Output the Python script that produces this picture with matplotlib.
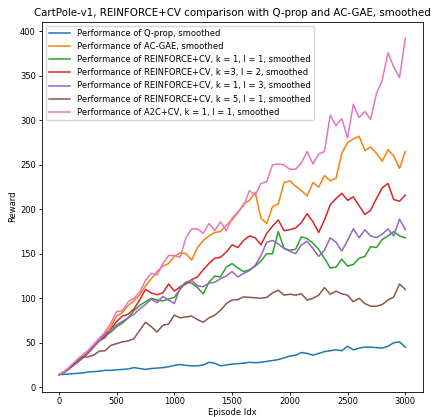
import numpy as np
import matplotlib
matplotlib.use("Agg")
import matplotlib.pyplot as plt

# episode index (sampled every 50 episodes)
episodes = np.arange(0, 3001, 50)

qprop = [14, 14.5, 15, 15.5, 16, 17, 17.5, 18, 19, 19, 19.5, 20, 20.5, 22, 21, 20,
         21, 21.5, 22, 23, 24.5, 25.5, 24.5, 24, 24, 25, 28, 27, 24, 25, 26, 26.5,
         27, 28, 27.5, 28, 29, 30, 31, 33, 35, 36, 39, 38, 36, 38, 40, 41, 42, 41,
         46, 42, 44, 45, 45, 44.5, 44, 46, 50, 51, 45]

acgae = [14, 17, 22, 28, 33, 40, 47, 55, 60, 68, 80, 84, 92, 97, 104, 114, 122,
         130, 136, 139, 147, 151, 150, 143, 157, 165, 170, 174, 175, 182, 188, 196,
         206, 210, 219, 190, 184, 203, 206, 230, 232, 226, 221, 215, 230, 225, 238,
         232, 235, 263, 275, 279, 282, 266, 270, 263, 254, 267, 260, 246, 265]

rcv_k1_l1 = [14, 17, 22, 27, 32, 38, 45, 52, 58, 62, 68, 72, 78, 86, 92, 96, 100,
             98, 97, 99, 101, 110, 118, 117, 112, 105, 118, 125, 124, 135, 139, 134,
             130, 132, 136, 142, 150, 150, 175, 156, 154, 155, 169, 167, 162, 155,
             145, 134, 135, 144, 136, 138, 145, 147, 158, 157, 166, 170, 175, 170, 168]

rcv_k3_l2 = [14, 17, 22, 27, 33, 38, 46, 52, 56, 65, 74, 80, 82, 88, 98, 110, 106,
             104, 106, 116, 108, 113, 116, 121, 124, 132, 139, 145, 146, 152, 160,
             157, 165, 170, 168, 160, 173, 181, 188, 176, 177, 179, 185, 195, 186,
             174, 188, 205, 212, 218, 210, 214, 204, 194, 199, 212, 224, 229, 211,
             209, 216]

rcv_k1_l3 = [14, 17, 22, 27, 32, 38, 45, 52, 60, 64, 70, 74, 78, 82, 88, 93, 99,
             95, 102, 98, 94, 112, 118, 120, 114, 113, 117, 118, 122, 125, 130, 124,
             128, 131, 137, 148, 163, 165, 161, 156, 153, 150, 160, 164, 156, 147,
             154, 168, 163, 153, 165, 178, 168, 177, 170, 168, 172, 178, 170, 189, 177]

rcv_k5_l1 = [14, 18, 23, 28, 34, 34, 36, 40.5, 41, 47, 49, 51, 52, 54.5, 64, 73,
             68, 62, 69.5, 71, 81, 78, 79, 80, 76, 73, 78, 81, 86.5, 94, 98, 98.5,
             101.5, 101, 100.5, 100, 101, 106, 109, 103.5, 104.5, 103.5, 105, 98, 100,
             103.5, 112, 104.5, 108, 105, 103.5, 96, 100, 94, 91, 91, 93, 98, 101.5,
             116, 110]

a2c_k1_l1 = [14, 18, 24, 30, 36, 41, 48, 55, 62, 72, 85, 86, 96, 100, 107, 120, 128,
             126, 139, 148, 148, 146, 168, 178, 178, 173, 184, 176, 186, 176, 190,
             197, 204, 221, 216, 229, 231, 250, 251, 250, 245, 245, 252, 265, 251,
             262, 265, 306, 294, 302, 280, 318, 303, 310, 301, 330, 345, 376, 360,
             348, 392]

labels = [
    "Performance of Q-prop, smoothed",
    "Performance of AC-GAE, smoothed",
    "Performance of REINFORCE+CV, k = 1, l = 1, smoothed",
    "Performance of REINFORCE+CV, k =3, l = 2, smoothed",
    "Performance of REINFORCE+CV, k = 1, l = 3, smoothed",
    "Performance of REINFORCE+CV, k = 5, l = 1, smoothed",
    "Performance of A2C+CV, k = 1, l = 1, smoothed",
]
series = [qprop, acgae, rcv_k1_l1, rcv_k3_l2, rcv_k1_l3, rcv_k5_l1, a2c_k1_l1]

plt.rcParams["xtick.major.size"] = 2.2
plt.rcParams["ytick.major.size"] = 2.2
plt.rcParams["axes.linewidth"] = 0.6

fig = plt.figure(figsize=(4.33, 4.17), dpi=100)
ax = fig.add_axes([0.096, 0.061, 0.880, 0.887])

for ys, lab in zip(series, labels):
    ax.plot(episodes, ys, label=lab, lw=1.1)

ax.set_title("CartPole-v1, REINFORCE+CV comparison with Q-prop and AC-GAE, smoothed",
             fontsize=7.4, pad=4)
ax.set_xlabel("Episode Idx", fontsize=6, labelpad=1)
ax.set_ylabel("Reward", fontsize=6, labelpad=2)
ax.tick_params(labelsize=6, width=0.6, pad=2)
ax.legend(loc="upper left", fontsize=6, handlelength=2.6, borderpad=0.35,
          labelspacing=0.5, framealpha=0.8)

plt.savefig("out.png", dpi=100)
